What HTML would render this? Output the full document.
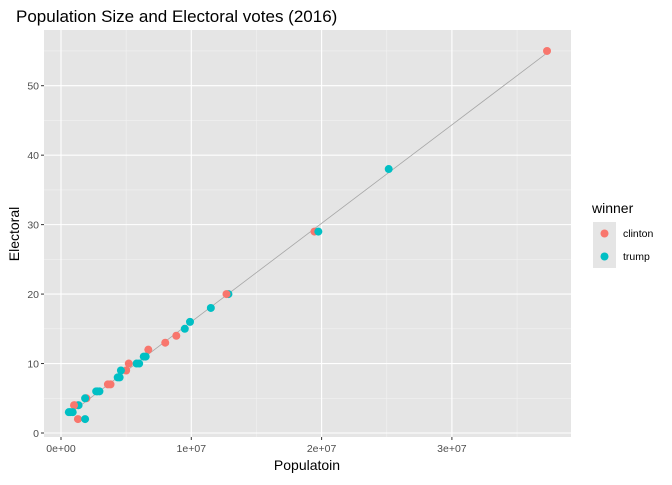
<!DOCTYPE html>
<html><head><meta charset="utf-8"><style>
body{margin:0;background:#fff;font-family:"Liberation Sans",sans-serif}
svg text{font-family:"Liberation Sans",sans-serif}
</style></head><body>
<svg id="c" width="672" height="480"></svg>
<script>
const population=[37.3,25.15,19.45,19.75,12.85,12.7,11.5,9.9,9.5,8.85,8.0,6.7,6.5,6.35,6.0,5.8,5.2,5.0,4.6,4.5,4.35,3.8,3.6,2.95,2.8,2.7,1.95,1.85,1.3,1.05,1.35,1.0,0.9,0.7,0.6,1.3,1.85];
const electoral=[55,38,29,29,20,20,18,16,15,14,13,12,11,11,10,10,10,9,9,8,8,7,7,6,6,6,5,5,4,4,4,4,3,3,3,2,2];
const winner=['clinton','trump','clinton','trump','trump','clinton','trump','trump','trump','clinton','clinton','clinton','trump','trump','trump','trump','clinton','clinton','trump','trump','trump','clinton','clinton','trump','trump','trump','clinton','trump','clinton','clinton','trump','clinton','trump','trump','trump','clinton','trump'];
const xTicks=[0,10,20,30];
const xTickLabels=['0e+00','1e+07','2e+07','3e+07'];
const yTicks=[0,10,20,30,40,50];
const NS='http://www.w3.org/2000/svg',svg=document.getElementById('c');
const L=44,R=571,T=30,B=437;
const x=v=>61+v*13.03, y=v=>433-v*6.946;
function mk(t,a,p){const e=document.createElementNS(NS,t);for(const k in a)e.setAttribute(k,a[k]);(p||svg).appendChild(e);return e;}
let bg=mk('rect',{x:L,y:T,width:R-L,height:B-T,fill:'#e5e5e5'});


const cols={clinton:'#f8766d',trump:'#00bfc4'};
for(let v=5;v<40;v+=10){const l=mk('line',{x1:x(v),x2:x(v),y1:T,y2:B,stroke:'#f2f2f2','stroke-width':0.6});}
for(let v=5;v<60;v+=10){const l=mk('line',{x1:L,x2:R,y1:y(v),y2:y(v),stroke:'#f2f2f2','stroke-width':0.6});}
xTicks.forEach((v,i)=>{
 const g=mk('line',{x1:x(v),x2:x(v),y1:T,y2:B,stroke:'#fff','stroke-width':1.1});
 
 mk('line',{x1:x(v),x2:x(v),y1:B,y2:B+3,stroke:'#333'});
 const t=mk('text',{x:x(v),y:B+15,'text-anchor':'middle','font-size':10.5,fill:'#4d4d4d'});t.textContent=xTickLabels[i];
 
});
yTicks.forEach(v=>{
 const g=mk('line',{x1:L,x2:R,y1:y(v),y2:y(v),stroke:'#fff','stroke-width':1.1});
 
 mk('line',{x1:L-3,x2:L,y1:y(v),y2:y(v),stroke:'#333'});
 const t=mk('text',{x:L-5,y:y(v)+4,'text-anchor':'end','font-size':10.5,fill:'#4d4d4d'});t.textContent=v;
 
});
const n=population.length;let mx=0,my=0;population.forEach((p,i)=>{mx+=p;my+=electoral[i]});mx/=n;my/=n;
let sxy=0,sxx=0;population.forEach((p,i)=>{sxy+=(p-mx)*(electoral[i]-my);sxx+=(p-mx)*(p-mx)});
const b=sxy/sxx,a=my-b*mx,x0=Math.min(...population),x1=Math.max(...population);
const ln=mk('line',{x1:x(x0),y1:y(a+b*x0),x2:x(x1),y2:y(a+b*x1),stroke:'#a6a6a6','stroke-width':0.8});

population.forEach((p,i)=>{
 const c=mk('circle',{cx:x(p),cy:y(electoral[i]),r:4,fill:cols[winner[i]]});
 
});
let t=mk('text',{x:16,y:22,'font-size':17,fill:'#000'});t.textContent='Population Size and Electoral votes (2016)';

t=mk('text',{x:307,y:470,'text-anchor':'middle','font-size':14,fill:'#000'});t.textContent='Populatoin';

t=mk('text',{x:0,y:0,'text-anchor':'middle','font-size':14,fill:'#000',transform:'translate(19,234) rotate(-90)'});t.textContent='Electoral';

t=mk('text',{x:592,y:213,'font-size':14,fill:'#000'});t.textContent='winner';

['clinton','trump'].forEach((w,i)=>{
 const g=mk('g',{});
 mk('rect',{x:593,y:222+i*23,width:23,height:23,fill:'#e5e5e5'},g);
 mk('circle',{cx:604.5,cy:233.5+i*23,r:4,fill:cols[w]},g);
 const tt=mk('text',{x:623,y:237+i*23,'font-size':10.5,fill:'#000'},g);tt.textContent=w;
});
</script>
</body></html>
